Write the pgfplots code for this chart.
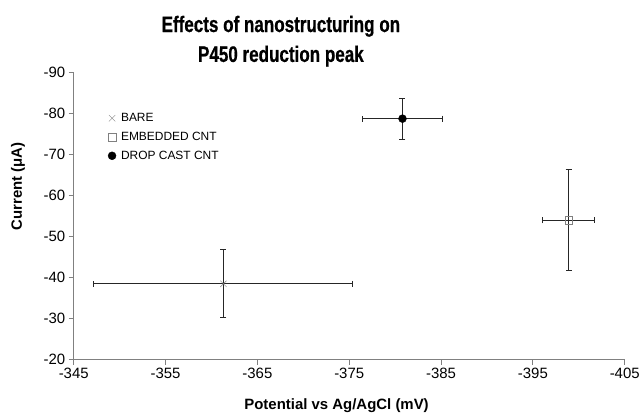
\documentclass[border=0pt]{standalone}
\usepackage{fontspec}
\setmainfont{Liberation Sans}
\newfontfamily\titlefont[FakeStretch=0.76, FakeBold=0.6]{Liberation Sans}
\usepackage{pgfplots}
\pgfplotsset{compat=1.18}
\definecolor{axisgray}{RGB}{128,128,128}
\begin{document}
\begin{tikzpicture}
\begin{axis}[
  scale only axis,
  width=553pt, height=288pt,
  x dir=reverse, y dir=reverse,
  xmin=-405, xmax=-345, ymin=-90, ymax=-20,
  xtick={-405,-395,...,-345},
  ytick={-90,-80,...,-20},
  axis x line*=bottom, axis y line*=left,
  axis line style={axisgray, line width=0.8pt},
  tick style={axisgray, line width=0.8pt},
  tick align=outside,
  major tick length=5pt,
  /pgf/number format/assume math mode=true,
  ticklabel style={font=\fontsize{15}{18}\selectfont, black},
  title={Effects of nanostructuring on\\P450 reduction peak},
  title style={at={(axis description cs:0.376,1.0)}, anchor=south, align=center,
    inner sep=0pt, font=\titlefont\bfseries\fontsize{22.5}{30}\selectfont},
  xlabel={Potential vs Ag/AgCl (mV)},
  xlabel style={at={(axis description cs:0.477,-0.175)}, anchor=base,
    font=\bfseries\fontsize{15}{18}\selectfont},
  ylabel={Current (μA)},
  ylabel style={at={(axis description cs:-0.101,0.604)}, anchor=center,
    font=\bfseries\fontsize{15}{18}\selectfont},
  legend style={at={(axis description cs:0.062,0.866)}, anchor=north west,
    draw=none, fill=none, font=\fontsize{12}{14}\selectfont,
    row sep=5pt, inner sep=0pt,
    /tikz/every odd column/.append style={column sep=3pt}},
  legend cell align=left,
  error bars/error bar style={black!85, line width=1.1pt},
  error bars/error mark options={rotate=90, black!85, line width=1.1pt, mark size=3pt},
  clip=false,
]
\addplot[only marks, mark=x, mark size=4.5pt, color=gray,
  error bars/.cd, x dir=both, x explicit, y dir=both, y explicit]
  coordinates {(-361.3,-38.5) +- (14.1,8.3)};
\addlegendentry{BARE}
\addplot[only marks, mark=square, mark size=3.8pt, color=gray,
  error bars/.cd, x dir=both, x explicit, y dir=both, y explicit]
  coordinates {(-398.9,-54.0) +- (2.85,12.3)};
\addlegendentry{EMBEDDED CNT}
\addplot[only marks, mark=*, mark size=4pt, color=black,
  error bars/.cd, x dir=both, x explicit, y dir=both, y explicit]
  coordinates {(-380.8,-78.8) +- (4.35,5.0)};
\addlegendentry{DROP CAST CNT}
\end{axis}
\path (current axis.south west) ++(-74pt,-58pt) rectangle ++(643pt,419pt);
\end{tikzpicture}
\end{document}
